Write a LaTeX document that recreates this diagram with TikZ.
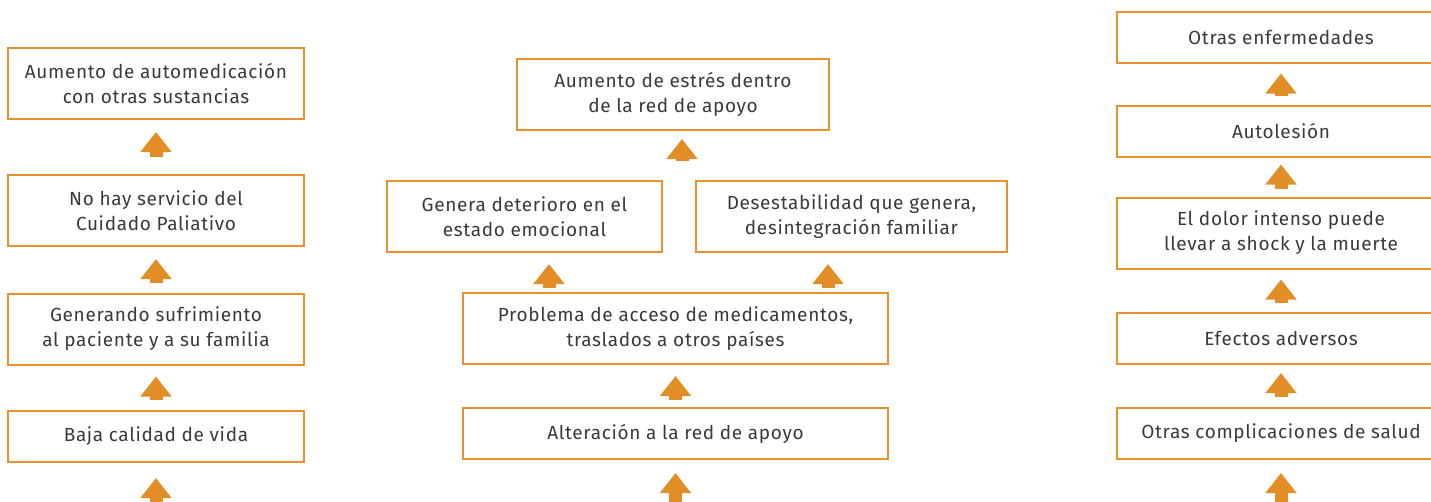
\documentclass[tikz,border=0pt]{standalone}
\usepackage{fontspec}
\setmainfont[LetterSpace=3.5]{Fira Sans}
\usetikzlibrary{arrows.meta}
\definecolor{boxc}{HTML}{E8922E}
\definecolor{arrc}{HTML}{E38D27}
\definecolor{txtc}{HTML}{3A3A3A}
\begin{document}
\begin{tikzpicture}[x=1pt,y=-1pt,
  box/.style={draw=boxc, line width=2pt, align=center, text=txtc, inner sep=0pt,
    font=\fontsize{19}{25}\selectfont},
  one/.style={minimum height=51pt},
  two/.style={minimum height=71pt},
  blk/.style={draw=arrc, line width=13pt, -{Triangle[width=30pt,length=20pt]},
    shorten >=10pt, shorten <=9pt}]
\clip (0,0) rectangle (1431,501);

% left column
\node[box,two,minimum width=296pt] (l1) at (156,83.5) {Aumento de automedicación\\con otras sustancias};
\node[box,two,minimum width=296pt] (l2) at (156,210.5) {No hay servicio del\\Cuidado Paliativo};
\node[box,two,minimum width=296pt] (l3) at (156,329) {Generando sufrimiento\\al paciente y a su familia};
\node[box,one,minimum width=296pt] (l4) at (156,436.5) {Baja calidad de vida};
\coordinate (l0) at (156,510);

\path[blk,shorten >=12pt,shorten <=17pt] (l2) -- (l1);
\path[blk,shorten >=12pt,shorten <=10pt] (l3) -- (l2);
\path[blk,shorten >=11pt,shorten <=10pt] (l4) -- (l3);
\path[blk,shorten >=15pt,shorten <=0pt] (l0) -- (l4.south);

% middle column
\node[box,two,minimum width=312pt] (m1) at (673,94.5) {Aumento de estrés dentro\\de la red de apoyo};
\node[box,two,minimum width=275pt] (m2) at (524.5,216.5) {Genera deterioro en el\\estado emocional};
\node[box,two,minimum width=311pt] (m3) at (851.5,216.5) {Desestabilidad que genera,\\desintegración familiar};
\node[box,two,minimum width=425pt] (m4) at (675.5,328.5) {Problema de acceso de medicamentos,\\traslados a otros países};
\node[box,one,minimum width=425pt] (m5) at (675.5,433.5) {Alteración a la red de apoyo};
\coordinate (m0) at (675.5,510);

\path[blk,shorten >=8pt,shorten <=19pt] ([xshift=9pt]m1.south |- m2.north) -- ([xshift=9pt]m1.south);
\path[blk,shorten >=11pt,shorten <=4pt] ([xshift=-126.5pt]m4.north) -- ([xshift=-126.5pt]m4.north |- m2.south);
\path[blk,shorten >=11pt,shorten <=4pt] ([xshift=152.5pt]m4.north) -- ([xshift=152.5pt]m4.north |- m3.south);
\path[blk,shorten >=11pt,shorten <=7pt] (m5) -- (m4);
\path[blk,shorten >=13pt,shorten <=0pt] (m0) -- (m5.south);

% right column
\node[box,one,minimum width=328pt] (r1) at (1281,37) {Otras enfermedades};
\node[box,one,minimum width=328pt] (r2) at (1281,131) {Autolesión};
\node[box,two,minimum width=328pt] (r3) at (1281,233) {El dolor intenso puede\\llevar a shock y la muerte};
\node[box,one,minimum width=328pt] (r4) at (1281,338.5) {Efectos adversos};
\node[box,one,minimum width=328pt] (r5) at (1281,433.5) {Otras complicaciones de salud};
\coordinate (r0) at (1281,510);

\path[blk] (r2) -- (r1);
\path[blk,shorten >=7pt,shorten <=8pt] (r3) -- (r2);
\path[blk] (r4) -- (r3);
\path[blk,shorten >=8pt,shorten <=10pt] (r5) -- (r4);
\path[blk,shorten >=13pt,shorten <=0pt] (r0) -- (r5.south);
\end{tikzpicture}
\end{document}
